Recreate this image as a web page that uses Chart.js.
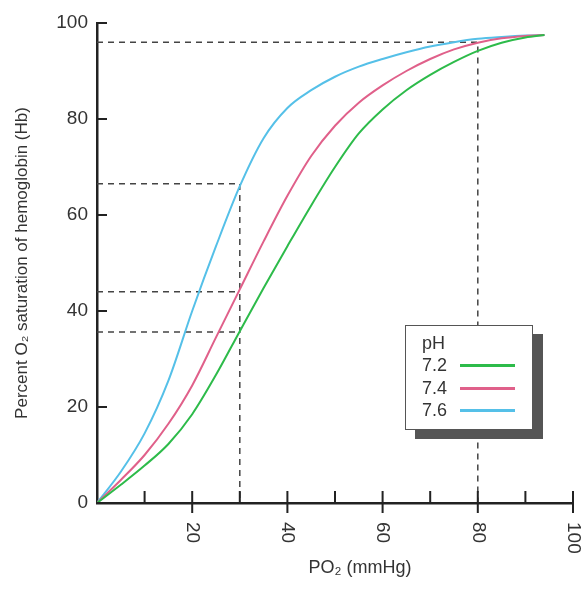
<!DOCTYPE html>
<html>
<head>
<meta charset="utf-8">
<script src="https://cdn.jsdelivr.net/npm/chart.js@4.4.1/dist/chart.umd.min.js"></script>
<style>
  html, body { margin: 0; padding: 0; background: #fff; }
  #wrap { position: relative; width: 582px; height: 591px; }
  #legend {
    position: absolute; left: 405px; top: 325px; width: 126px; height: 103px;
    border: 1.5px solid #555; background: #fff; box-shadow: 10px 9px 0 #555;
    font: 18px 'Liberation Sans', Arial, sans-serif; color: #333;
  }
  #legend .row { position: absolute; left: 16px; height: 20px; line-height: 20px; }
  #legend .swatch { position: absolute; left: 38px; top: 9px; width: 55px; height: 3px; }
</style>
</head>
<body>
<div id="wrap">
  <canvas id="chart" width="582" height="591"></canvas>
  <div id="legend"></div>
</div>
<script>
const po2 = [0, 5, 10, 15, 20, 25, 30, 35, 40, 45, 50, 55, 60, 65, 70, 75, 80, 85, 90, 94];

// % O2 saturation for each pH
const satPh72 = [0, 3.8, 7.8, 12.3, 18.5, 26.7, 35.8, 44.8, 53.5, 62, 70, 77, 82, 86, 89.2, 91.9, 94.2, 95.9, 97, 97.5];
const satPh74 = [0, 4.8, 10, 16.5, 24.5, 34.5, 44.5, 54.5, 64, 72.3, 78.6, 83.4, 87, 90, 92.5, 94.5, 95.9, 96.8, 97.3, 97.5];
const satPh76 = [0, 6.5, 14.5, 25.5, 40, 53.5, 66, 76, 82.3, 86, 88.8, 90.9, 92.5, 93.9, 95.1, 96, 96.7, 97.1, 97.4, 97.5];

const phLabels = ['7.2', '7.4', '7.6'];
const phColors = ['#2dbb4a', '#e0608a', '#55c0e8'];

// dashed guide lines: [x, y] pairs
const guideAt80 = [[0, 96], [80, 96], [80, 0]];
const guideAt30Blue = [[0, 66.5], [30, 66.5], [30, 0]];
const guideAt30Red = [[0, 44], [30, 44]];
const guideAt30Green = [[0, 35.6], [30, 35.6]];

const yTickValues = [0, 20, 40, 60, 80, 100];
const xMajorTicks = [20, 40, 60, 80, 100];
const xMinorTicks = [10, 30, 50, 70, 90];

const xTitle = 'PO₂ (mmHg)';
const yTitle = 'Percent O₂ saturation of hemoglobin (Hb)';

const fontFamily = "'Liberation Sans', Arial, sans-serif";
const textColor = '#333';
const axisColor = '#222';

function toPoints(xs, ys) {
  return xs.map((x, i) => ({ x: x, y: ys[i] }));
}

function guide(pairs) {
  return {
    data: pairs.map(p => ({ x: p[0], y: p[1] })),
    borderColor: '#444',
    borderWidth: 1.5,
    borderDash: [6, 5],
    pointRadius: 0,
    tension: 0,
    order: 2
  };
}

function curve(ys, i) {
  return {
    label: phLabels[i],
    data: toPoints(po2, ys),
    borderColor: phColors[i],
    borderWidth: 2,
    pointRadius: 0,
    cubicInterpolationMode: 'monotone',
    order: 1
  };
}

// draws the inward tick marks, the rotated x labels and the x title
const axisExtras = {
  id: 'axisExtras',
  afterDraw(chart) {
    const ctx = chart.ctx;
    const x = chart.scales.x;
    const y = chart.scales.y;
    const left = chart.chartArea.left;
    const bottom = chart.chartArea.bottom;
    ctx.save();
    ctx.strokeStyle = axisColor;
    ctx.lineWidth = 2;
    ctx.beginPath();
    yTickValues.forEach(v => {
      const py = y.getPixelForValue(v);
      ctx.moveTo(left, py);
      ctx.lineTo(left + 10, py);
    });
    xMinorTicks.forEach(v => {
      const px = x.getPixelForValue(v);
      ctx.moveTo(px, bottom);
      ctx.lineTo(px, bottom - 12);
    });
    xMajorTicks.forEach(v => {
      const px = x.getPixelForValue(v);
      ctx.moveTo(px, bottom + 10);
      ctx.lineTo(px, bottom - 12);
    });
    ctx.stroke();

    ctx.fillStyle = textColor;
    ctx.font = '19px ' + fontFamily;
    ctx.textAlign = 'left';
    ctx.textBaseline = 'middle';
    xMajorTicks.forEach(v => {
      const px = x.getPixelForValue(v);
      ctx.save();
      ctx.translate(px, bottom + 19);
      ctx.rotate(Math.PI / 2);
      ctx.fillText(String(v), 0, 0);
      ctx.restore();
    });

    ctx.font = '18px ' + fontFamily;
    ctx.textAlign = 'center';
    ctx.fillText(xTitle, 360, 568);
    ctx.restore();
  }
};

new Chart(document.getElementById('chart'), {
  type: 'line',
  data: {
    datasets: [
      curve(satPh72, 0),
      curve(satPh74, 1),
      curve(satPh76, 2),
      guide(guideAt80),
      guide(guideAt30Blue),
      guide(guideAt30Red),
      guide(guideAt30Green)
    ]
  },
  options: {
    responsive: false,
    animation: false,
    layout: { padding: { top: 23, right: 9, left: 0, bottom: 0 } },
    plugins: { legend: { display: false }, tooltip: { enabled: false } },
    scales: {
      x: {
        type: 'linear',
        min: 0,
        max: 100,
        grid: { display: false, drawTicks: false },
        border: { display: true, color: axisColor, width: 2.5 },
        ticks: { display: false },
        afterFit: scale => { scale.height = 88; }
      },
      y: {
        min: 0,
        max: 100,
        grid: { display: false, drawTicks: false },
        border: { display: true, color: axisColor, width: 2.5 },
        ticks: {
          stepSize: 20,
          padding: 9,
          color: textColor,
          font: { family: fontFamily, size: 19 }
        },
        title: {
          display: true,
          text: yTitle,
          color: textColor,
          font: { family: fontFamily, size: 17 },
          padding: { top: 12, bottom: 0 }
        },
        afterFit: scale => { scale.width = 97; }
      }
    }
  },
  plugins: [axisExtras]
});

// legend box, built from the same label and colour arrays
const legend = document.getElementById('legend');
const head = document.createElement('div');
head.className = 'row';
head.style.top = '7px';
head.textContent = 'pH';
legend.appendChild(head);
phLabels.forEach((label, i) => {
  const row = document.createElement('div');
  row.className = 'row';
  row.style.top = (29 + i * 22.5) + 'px';
  row.textContent = label;
  const swatch = document.createElement('span');
  swatch.className = 'swatch';
  swatch.style.background = phColors[i];
  row.appendChild(swatch);
  legend.appendChild(row);
});
</script>
</body>
</html>
